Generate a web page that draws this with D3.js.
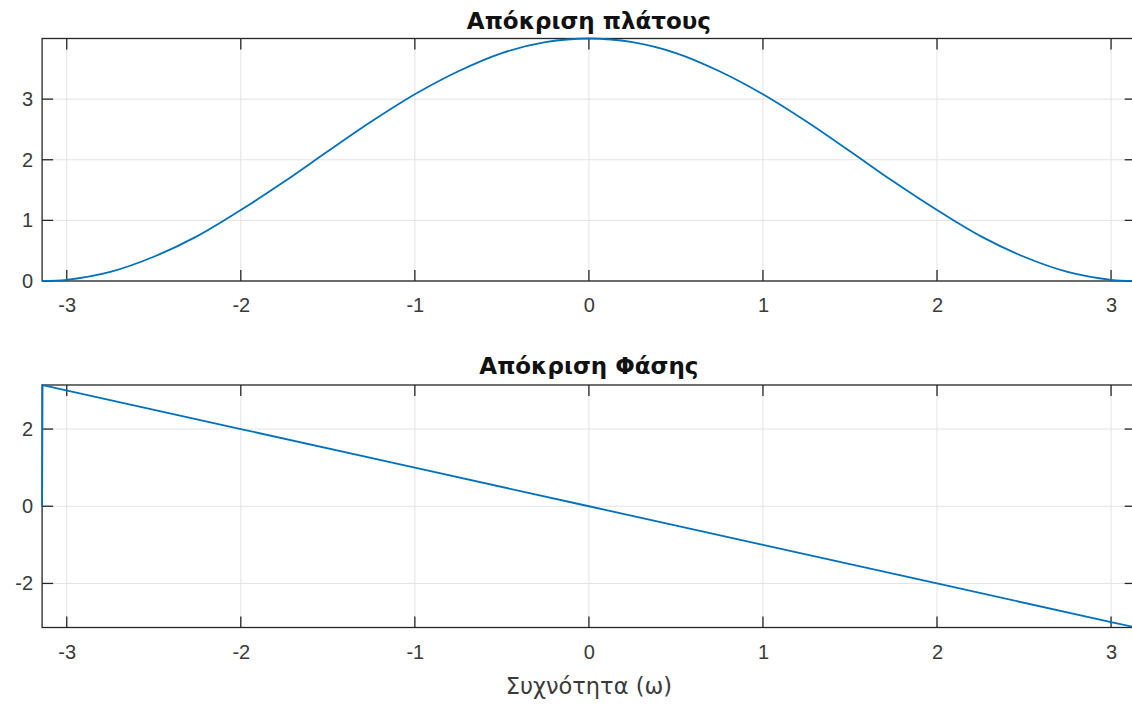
<!DOCTYPE html>
<html>
<head>
<meta charset="utf-8">
<script src="https://cdn.jsdelivr.net/npm/d3@7"></script>
<style>
  body { margin: 0; background: #fff; }
  text { font-family: "Liberation Sans", Arial, sans-serif; }
</style>
</head>
<body>
<div id="here"></div>
<script>
// DATA
// amplitude response
const ampW = [-3.1416, -3.0, -2.75, -2.5, -2.25, -2.0, -1.75, -1.5, -1.25, -1.0, -0.75, -0.5, -0.25, 0,
              0.25, 0.5, 0.75, 1.0, 1.25, 1.5, 1.75, 2.0, 2.25, 2.5, 2.75, 3.0, 3.1416];
const ampVal = [0, 0.02, 0.15, 0.40, 0.74, 1.17, 1.64, 2.14, 2.63, 3.08, 3.46, 3.76, 3.94, 4.0,
                3.94, 3.76, 3.46, 3.08, 2.63, 2.14, 1.64, 1.17, 0.74, 0.40, 0.15, 0.02, 0];

// phase response
const phaseW = [-3.1416, -3.139, -2, -1, 0, 1, 2, 3, 3.1416];
const phaseVal = [0, 3.139, 2, 1, 0, -1, -2, -3, -3.1416];

const xTicks = [-3, -2, -1, 0, 1, 2, 3];
const ampTicks = [0, 1, 2, 3];
const phaseTicks = [-2, 0, 2];

const titles = ["Απόκριση πλάτους", "Απόκριση Φάσης"];
const xLabel = "Συχνότητα (ω)";

// canvas
const width = 1132, height = 706;
const svg = d3.select("#here").append("svg")
  .attr("width", width)
  .attr("height", height);

const blue = "#0072BD";
const axisColor = "#262626";
const gridColor = "#e3e3e3";
const tickLen = 11;
const greekFont = "'DejaVu Sans', Verdana, sans-serif";

const x = d3.scaleLinear().domain([-Math.PI, Math.PI]).range([42.1, 1135.7]);

function drawPanel(opts) {
  const y = opts.y;
  const g = svg.append("g");
  const [x0, x1] = x.range();
  const [y0, y1] = y.range(); // y0 bottom, y1 top

  // grid
  g.selectAll(".vgrid").data(xTicks).enter().append("line")
    .attr("x1", d => x(d)).attr("x2", d => x(d))
    .attr("y1", y0).attr("y2", y1)
    .attr("stroke", gridColor).attr("stroke-width", 1);
  g.selectAll(".hgrid").data(opts.yTicks).enter().append("line")
    .attr("x1", x0).attr("x2", x1)
    .attr("y1", d => y(d)).attr("y2", d => y(d))
    .attr("stroke", gridColor).attr("stroke-width", 1);

  // box
  g.append("rect")
    .attr("x", x0).attr("y", y1)
    .attr("width", x1 - x0).attr("height", y0 - y1)
    .attr("fill", "none")
    .attr("stroke", axisColor).attr("stroke-width", 1.3);

  // inward ticks on all four sides
  xTicks.forEach(t => {
    g.append("line").attr("x1", x(t)).attr("x2", x(t)).attr("y1", y0).attr("y2", y0 - tickLen)
      .attr("stroke", axisColor).attr("stroke-width", 1.3);
    g.append("line").attr("x1", x(t)).attr("x2", x(t)).attr("y1", y1).attr("y2", y1 + tickLen)
      .attr("stroke", axisColor).attr("stroke-width", 1.3);
  });
  opts.yTicks.forEach(t => {
    g.append("line").attr("x1", x0).attr("x2", x0 + tickLen).attr("y1", y(t)).attr("y2", y(t))
      .attr("stroke", axisColor).attr("stroke-width", 1.3);
    g.append("line").attr("x1", x1).attr("x2", x1 - tickLen).attr("y1", y(t)).attr("y2", y(t))
      .attr("stroke", axisColor).attr("stroke-width", 1.3);
  });

  // the curve, on top of the box
  const clipId = "clip" + opts.id;
  svg.append("clipPath").attr("id", clipId).append("rect")
    .attr("x", x0 - 2).attr("y", y1 - 2)
    .attr("width", x1 - x0 + 4).attr("height", y0 - y1 + 4);

  const line = d3.line()
    .x(d => x(d[0]))
    .y(d => y(d[1]))
    .curve(opts.curve);

  g.append("path")
    .datum(d3.zip(opts.xs, opts.ys))
    .attr("clip-path", `url(#${clipId})`)
    .attr("fill", "none")
    .attr("stroke", blue)
    .attr("stroke-width", 1.8)
    .attr("d", line);

  // tick labels through d3 axes
  const xAxis = g.append("g")
    .attr("transform", `translate(0, ${y0})`)
    .call(d3.axisBottom(x).tickValues(xTicks).tickSize(0).tickPadding(17)
      .tickFormat(d => d3.format("d")(d).replace("−", "-")));
  const yAxis = g.append("g")
    .attr("transform", `translate(${x0}, 0)`)
    .call(d3.axisLeft(y).tickValues(opts.yTicks).tickSize(0).tickPadding(9)
      .tickFormat(d => d3.format("d")(d).replace("−", "-")));
  [xAxis, yAxis].forEach(a => {
    a.select(".domain").remove();
    a.selectAll("text")
      .attr("fill", "#3a3a3a")
      .style("font-size", "20px")
      .style("font-family", "'Liberation Sans', Arial, sans-serif");
  });

  // title
  g.append("text")
    .attr("x", x(0))
    .attr("y", opts.titleY)
    .attr("text-anchor", "middle")
    .attr("fill", "#111")
    .style("font-family", greekFont)
    .style("font-size", "23px")
    .style("font-weight", "bold")
    .text(opts.title);
}

drawPanel({
  id: 1,
  y: d3.scaleLinear().domain([0, 4]).range([281, 38.5]),
  yTicks: ampTicks,
  xs: ampW, ys: ampVal,
  curve: d3.curveCatmullRom,
  title: titles[0],
  titleY: 29
});

drawPanel({
  id: 2,
  y: d3.scaleLinear().domain([-Math.PI, Math.PI]).range([627.5, 385]),
  yTicks: phaseTicks,
  xs: phaseW, ys: phaseVal,
  curve: d3.curveLinear,
  title: titles[1],
  titleY: 374
});

// x axis label
svg.append("text")
  .attr("x", x(0))
  .attr("y", 694)
  .attr("text-anchor", "middle")
  .attr("fill", "#3a3a3a")
  .style("font-family", greekFont)
  .style("font-size", "22.5px")
  .text(xLabel);
</script>
</body>
</html>
